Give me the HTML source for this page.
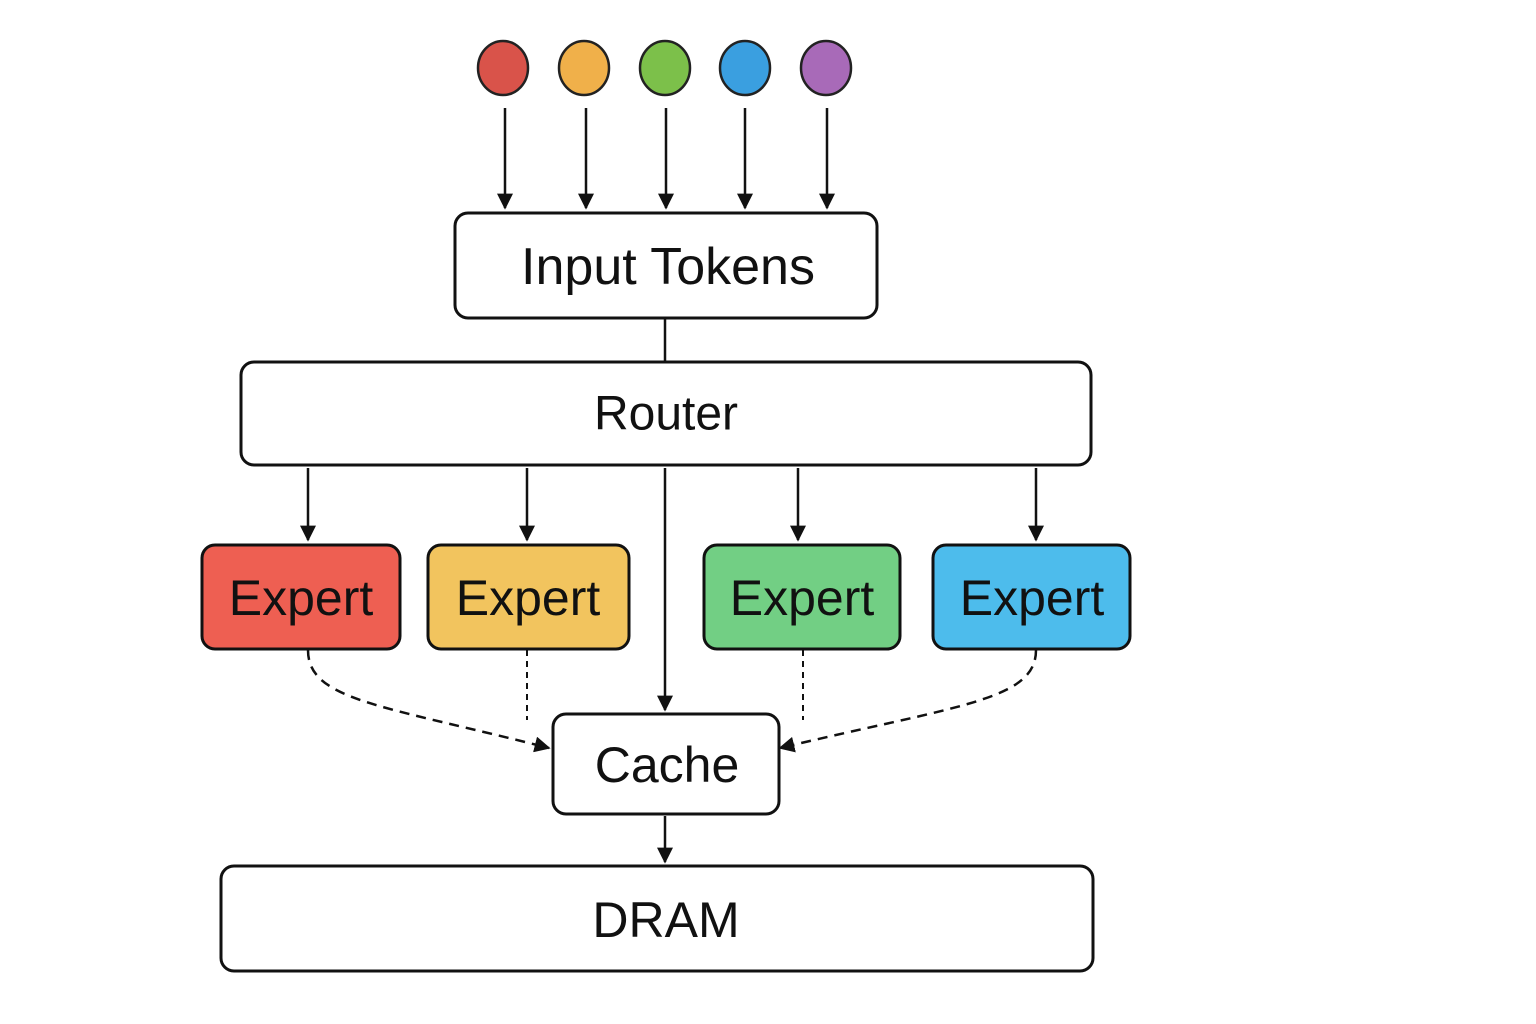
<!DOCTYPE html>
<html><head><meta charset="utf-8"><style>
html,body{margin:0;padding:0;background:#fff;}
svg{display:block}
text{font-family:"Liberation Sans",sans-serif;fill:#111;text-anchor:middle;dominant-baseline:central}
</style></head><body>
<svg width="1536" height="1024" viewBox="0 0 1536 1024">
<defs>
<marker id="b" viewBox="0 0 10 10" markerWidth="16" markerHeight="16" refX="9" refY="5" orient="auto" markerUnits="userSpaceOnUse">
<path d="M0,0 L10,5 L0,10 Z" fill="#111"/>
</marker>
</defs>
<g stroke="#222" stroke-width="2.5">
<ellipse cx="503" cy="68" rx="25" ry="27" fill="#d9534a"/>
<ellipse cx="584" cy="68" rx="25" ry="27" fill="#f0b04a"/>
<ellipse cx="665" cy="68" rx="25" ry="27" fill="#7cc04a"/>
<ellipse cx="745" cy="68" rx="25" ry="27" fill="#3a9fe0"/>
<ellipse cx="826" cy="68" rx="25" ry="27" fill="#a86ab8"/>
</g>
<g stroke="#111" stroke-width="2.5" fill="none" marker-end="url(#b)">
<line x1="505" y1="108" x2="505" y2="208"/>
<line x1="586" y1="108" x2="586" y2="208"/>
<line x1="666" y1="108" x2="666" y2="208"/>
<line x1="745" y1="108" x2="745" y2="208"/>
<line x1="827" y1="108" x2="827" y2="208"/>
<line x1="308" y1="468" x2="308" y2="540"/>
<line x1="527" y1="468" x2="527" y2="540"/>
<line x1="798" y1="468" x2="798" y2="540"/>
<line x1="1036" y1="468" x2="1036" y2="540"/>
<line x1="665" y1="468" x2="665" y2="710"/>
<line x1="665" y1="816" x2="665" y2="862"/>
</g>
<line x1="665" y1="318" x2="665" y2="362" stroke="#111" stroke-width="2.5"/>
<g stroke="#111" stroke-width="2.5" fill="none" stroke-dasharray="10,7" marker-end="url(#b)">
<path d="M308,650 C308,700 380,705 549,748"/>
<path d="M1036,650 C1036,700 960,705 780,748"/>
</g>
<g stroke="#111" stroke-width="2" fill="none" stroke-dasharray="6,5">
<line x1="527" y1="650" x2="527" y2="720"/>
<line x1="803" y1="650" x2="803" y2="720"/>
</g>
<g stroke="#111" stroke-width="3">
<rect x="455" y="213" width="422" height="105" rx="13" fill="#fff"/>
<rect x="241" y="362" width="850" height="103" rx="13" fill="#fff"/>
<rect x="202" y="545" width="198" height="104" rx="13" fill="#ee5f52"/>
<rect x="428" y="545" width="201" height="104" rx="13" fill="#f2c45e"/>
<rect x="704" y="545" width="196" height="104" rx="13" fill="#72cf84"/>
<rect x="933" y="545" width="197" height="104" rx="13" fill="#4dbcec"/>
<rect x="553" y="714" width="226" height="100" rx="13" fill="#fff"/>
<rect x="221" y="866" width="872" height="105" rx="13" fill="#fff"/>
</g>
<text x="668" y="267" font-size="52">Input Tokens</text>
<text x="666" y="414" font-size="48">Router</text>
<text x="301" y="598" font-size="50">Expert</text>
<text x="528" y="598" font-size="50">Expert</text>
<text x="802" y="598" font-size="50">Expert</text>
<text x="1032" y="598" font-size="50">Expert</text>
<text x="667" y="765" font-size="50">Cache</text>
<text x="666" y="920" font-size="50">DRAM</text>
</svg>
</body></html>
